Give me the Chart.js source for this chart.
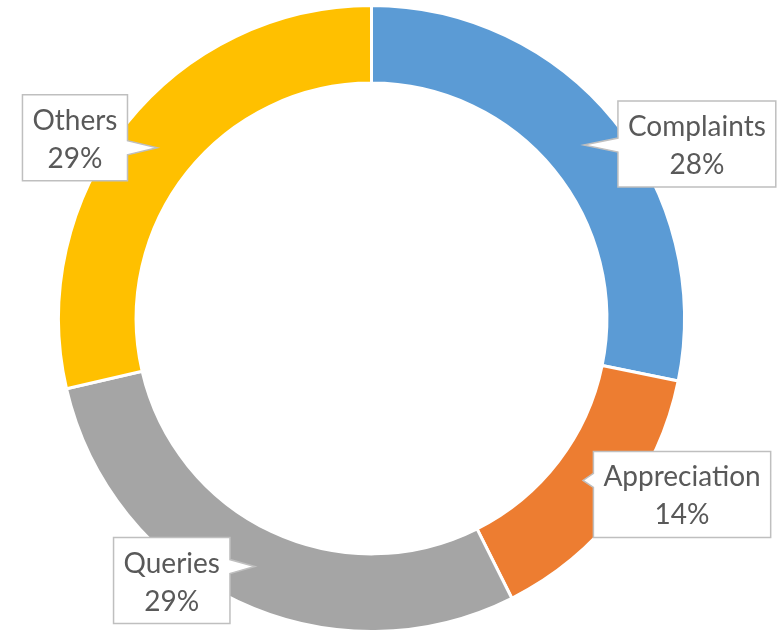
<!DOCTYPE html>
<html>
<head>
<meta charset="utf-8">
<script src="https://cdn.jsdelivr.net/npm/chart.js@4/dist/chart.umd.min.js"></script>
<style>
  html, body { margin: 0; padding: 0; background: #ffffff; }
  #wrap { width: 782px; height: 631px; }
</style>
</head>
<body>
<div id="wrap"><canvas id="c" width="782" height="631"></canvas></div>
<script>
// ---- data ----
const categories = ['Complaints', 'Appreciation', 'Queries', 'Others'];
const values = [28.2, 14.4, 28.8, 28.6];
const colors = ['#5B9BD5', '#ED7D31', '#A5A5A5', '#FFC000'];

// ---- callout layout (box centre offset from pointer tip, tip position within ring) ----
const calloutDx = [113, 99, -83, -82];
const calloutDy = [-1, 14, 14, -10];
const calloutTipFrac = [0.5, 0.4, 0.5, 0.5];

const total = values.reduce((a, b) => a + b, 0);

const calloutPlugin = {
  id: 'callouts',
  afterDatasetsDraw(chart) {
    const ctx = chart.ctx;
    const meta = chart.getDatasetMeta(0);
    ctx.save();
    ctx.font = '28px Lato';
    meta.data.forEach((el, i) => {
      const p = el.getProps(['x', 'y', 'startAngle', 'endAngle', 'innerRadius', 'outerRadius'], true);
      const mid = (p.startAngle + p.endAngle) / 2;
      const r = p.innerRadius + (p.outerRadius - p.innerRadius) * calloutTipFrac[i];
      const tx = p.x + Math.cos(mid) * r;
      const ty = p.y + Math.sin(mid) * r;
      const line1 = categories[i];
      const line2 = Math.round(values[i] / total * 100) + '%';
      const tw = Math.max(ctx.measureText(line1).width, ctx.measureText(line2).width);
      const w = tw + 20, h = 86;
      const cx = tx + calloutDx[i], cy = ty + calloutDy[i];
      const L = cx - w / 2, T = cy - h / 2, R = cx + w / 2, B = cy + h / 2;
      const hw = 7;
      ctx.beginPath();
      ctx.moveTo(L, T);
      ctx.lineTo(R, T);
      if (tx > R) {
        const by = Math.min(Math.max(ty, T + 12), B - 12);
        ctx.lineTo(R, by - hw); ctx.lineTo(tx, ty); ctx.lineTo(R, by + hw);
      }
      ctx.lineTo(R, B);
      ctx.lineTo(L, B);
      if (tx < L) {
        const by = Math.min(Math.max(ty, T + 12), B - 12);
        ctx.lineTo(L, by + hw); ctx.lineTo(tx, ty); ctx.lineTo(L, by - hw);
      }
      ctx.closePath();
      ctx.fillStyle = '#ffffff';
      ctx.fill();
      ctx.lineWidth = 1.5;
      ctx.strokeStyle = '#BFBFBF';
      ctx.stroke();
      ctx.fillStyle = '#595959';
      ctx.textAlign = 'center';
      ctx.textBaseline = 'alphabetic';
      ctx.fillText(line1, cx, T + 35);
      ctx.fillText(line2, cx, T + 73);
    });
    ctx.restore();
  }
};

new Chart(document.getElementById('c'), {
  type: 'doughnut',
  data: {
    labels: categories,
    datasets: [{
      data: values,
      backgroundColor: colors,
      borderColor: '#ffffff',
      borderWidth: 3,
      radius: 313,
      cutout: '75.2%'
    }]
  },
  options: {
    responsive: false,
    devicePixelRatio: 1,
    animation: false,
    layout: { padding: { top: 6, bottom: 0, left: 0, right: 39 } },
    plugins: {
      legend: { display: false },
      tooltip: { enabled: false }
    }
  },
  plugins: [calloutPlugin]
});
</script>
</body>
</html>
